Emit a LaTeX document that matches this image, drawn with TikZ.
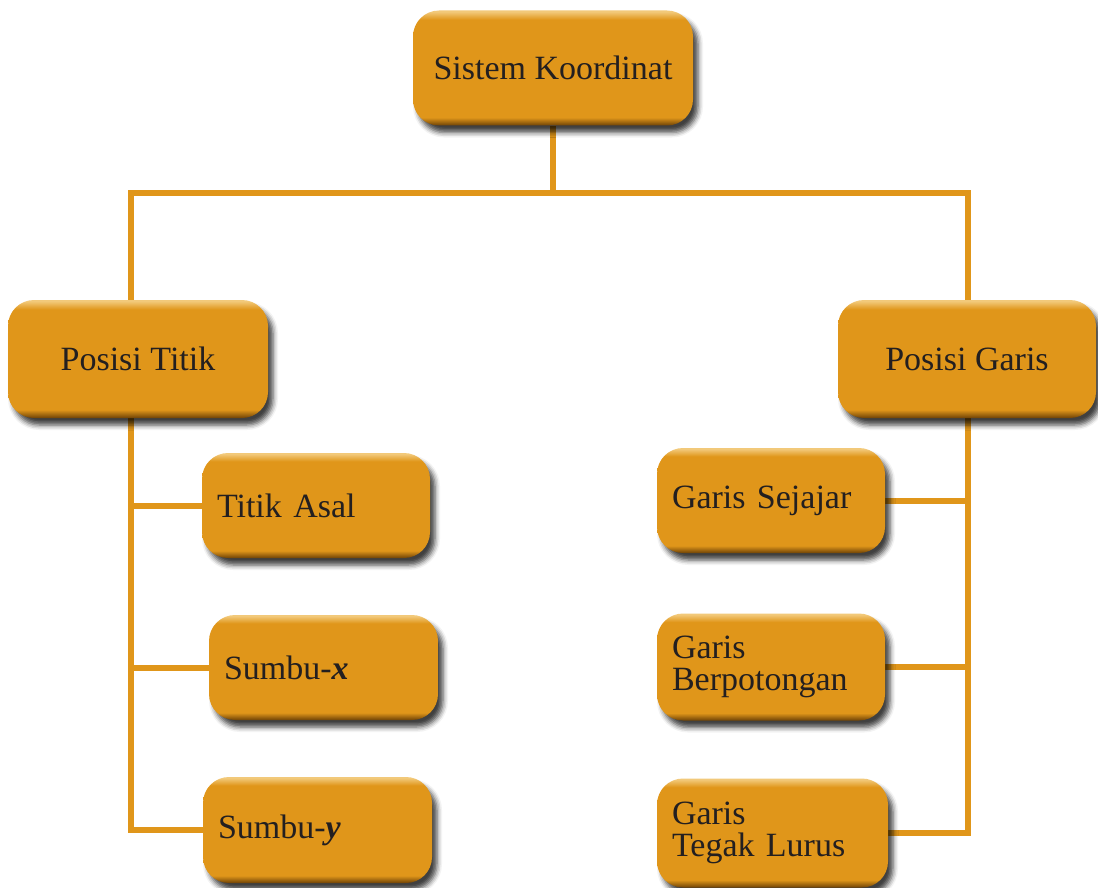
\documentclass[tikz,border=0pt]{standalone}
\usepackage{fontspec}
\setmainfont{Liberation Serif}
\usetikzlibrary{shadows.blur,backgrounds}
\definecolor{orng}{HTML}{E0961A}
\definecolor{orngl}{HTML}{F2C97A}
\definecolor{brn}{HTML}{6E4206}
\definecolor{txt}{HTML}{231F20}
\pgfdeclareverticalshading{boxsh}{100bp}{color(0bp)=(brn); color(25bp)=(brn); color(28.5bp)=(orng); color(71bp)=(orng); color(74.5bp)=(orngl); color(100bp)=(orngl)}
\tikzset{
  cbox/.style={rounded corners=13pt, shade, shading=boxsh,
    blur shadow={shadow xshift=2.5pt, shadow yshift=-3.5pt, shadow blur radius=2.5pt, shadow opacity=75},
    font=\fontsize{17}{16}\selectfont, text=txt, inner sep=0pt},
  lbox/.style={cbox, align=left, inner xsep=7.5pt, inner ysep=0pt},
  conn/.style={line width=3pt, draw=orng}
}
\begin{document}
\begin{tikzpicture}[x=0.5pt,y=-0.5pt]
\useasboundingbox (0,0) rectangle (1098,888);
\node[cbox, minimum width=140pt, minimum height=57.5pt] (top) at (553,68) {Sistem Koordinat};
\node[cbox, minimum width=130pt, minimum height=59pt] (pt) at (138,359) {Posisi Titik};
\node[cbox, minimum width=129pt, minimum height=59pt] (pg) at (967,359) {Posisi Garis};
\node[lbox, text width=99pt, minimum height=52.5pt] (ta) at (316,505.5) {Titik Asal};
\node[lbox, text width=99.5pt, minimum height=52.5pt] (sx) at (323.5,667.5) {Sumbu-\textbf{\textit{x}}};
\node[lbox, text width=99.5pt, minimum height=53pt] (sy) at (317.5,830) {Sumbu-\textbf{\textit{y}}};
\node[lbox, text width=99pt, minimum height=52.5pt] (gs) at (771,500.5) {Garis Sejajar};
\node[lbox, text width=99pt, minimum height=53.5pt] (gb) at (771,667) {Garis\\Berpotongan};
\node[lbox, text width=100.5pt, minimum height=54.5pt] (gt) at (772.5,833) {Garis\\Tegak Lurus};
\begin{scope}[on background layer]
\coordinate (bus) at (553,193);
\coordinate (lsp) at (131,0);
\draw[conn] (top.south) -- (bus);
\draw[conn] ([xshift=-3.5pt]pt.north) |- (bus) -| ([xshift=0.5pt]pg.north);
\draw[conn] ([xshift=-3.5pt]pt.south) |- (sy.west);
\draw[conn] (ta.west) -- (ta.west -| lsp);
\draw[conn] (sx.west) -- (sx.west -| lsp);
\draw[conn] ([xshift=0.5pt]pg.south) |- (gt.east);
\draw[conn] (gs.east) -- (gs.east -| pg.south);
\draw[conn] (gb.east) -- (gb.east -| pg.south);
\end{scope}
\end{tikzpicture}
\end{document}
